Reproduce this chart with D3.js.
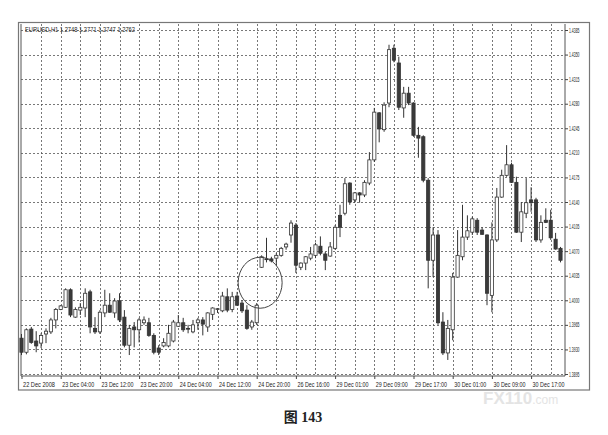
<!DOCTYPE html>
<html>
  <head>
    <meta charset="utf-8">
    <title>EURUSD H1, 22-30 Dec 2008</title>
    <script src="https://d3js.org/d3.v7.min.js"></script>
    <style>
      body { margin: 0; background: #fff; }
      text { font-family: "Liberation Sans", Arial, sans-serif; fill: #222; }
      .caption { font-family: "Liberation Serif", "Noto Sans CJK SC", serif; font-weight: bold; }
    </style>
  </head>
  <body>
    <div id="chart"></div>
    <script>
      // Hourly candles, one entry per bar
      const open = [
        1.3946, 1.3926, 1.3959, 1.3942, 1.3939, 1.3952, 1.3955, 1.3972, 1.3987, 1.3990,
        1.4015, 1.3976, 1.3986, 1.3989, 1.4012, 1.3960, 1.3955, 1.3982, 1.3993, 1.3982,
        1.3999, 1.3976, 1.3936, 1.3962, 1.3958, 1.3968, 1.3968, 1.3950, 1.3932, 1.3935,
        1.3935, 1.3942, 1.3963, 1.3968, 1.3960, 1.3955, 1.3968, 1.3972, 1.3962, 1.3980,
        1.3987, 1.3985, 1.4005, 1.3987, 1.4006, 1.3996, 1.3986, 1.3962, 1.3968, 1.4047,
        1.4059, 1.4059, 1.4060, 1.4064, 1.4076, 1.4093, 1.4107, 1.4047, 1.4053, 1.4060,
        1.4064, 1.4077, 1.4066, 1.4063, 1.4074, 1.4121, 1.4124, 1.4167, 1.4143, 1.4153,
        1.4150, 1.4167, 1.4200, 1.4267, 1.4243, 1.4281, 1.4359, 1.4338, 1.4274, 1.4295,
        1.4281, 1.4235, 1.4233, 1.4171, 1.4057, 1.4093, 1.3969, 1.3925, 1.3958, 1.4033,
        1.4062, 1.4090, 1.4097, 1.4114, 1.4100, 1.4093, 1.4007, 1.4086, 1.4147, 1.4178,
        1.4193, 1.4168, 1.4097, 1.4124, 1.4143, 1.4143, 1.4086, 1.4114, 1.4114, 1.4087,
        1.4074
      ];
      const high = [
        1.3952, 1.3960, 1.3962, 1.3956, 1.3953, 1.3960, 1.3975, 1.3989, 1.3993, 1.4017,
        1.4017, 1.3990, 1.3996, 1.4017, 1.4015, 1.3976, 1.3986, 1.4015, 1.4010, 1.4003,
        1.4010, 1.3986, 1.3965, 1.3969, 1.3975, 1.3977, 1.3975, 1.3953, 1.3936, 1.3946,
        1.3965, 1.3972, 1.3979, 1.3975, 1.3965, 1.3972, 1.3975, 1.3976, 1.3983, 1.3990,
        1.3989, 1.4012, 1.4017, 1.4012, 1.4012, 1.4000, 1.3993, 1.3972, 1.3996, 1.4064,
        1.4089, 1.4062, 1.4067, 1.4076, 1.4082, 1.4114, 1.4110, 1.4054, 1.4063, 1.4076,
        1.4082, 1.4091, 1.4069, 1.4083, 1.4107, 1.4136, 1.4174, 1.4168, 1.4154, 1.4154,
        1.4171, 1.4211, 1.4274, 1.4268, 1.4282, 1.4364, 1.4364, 1.4347, 1.4304, 1.4304,
        1.4282, 1.4247, 1.4235, 1.4174, 1.4104, 1.4100, 1.3983, 1.3972, 1.4039, 1.4100,
        1.4136, 1.4121, 1.4119, 1.4117, 1.4104, 1.4094, 1.4111, 1.4160, 1.4186, 1.4221,
        1.4196, 1.4176, 1.4140, 1.4174, 1.4161, 1.4146, 1.4121, 1.4131, 1.4129, 1.4096,
        1.4076
      ];
      const low = [
        1.3922, 1.3923, 1.3938, 1.3926, 1.3932, 1.3939, 1.3952, 1.3960, 1.3986, 1.3989,
        1.3976, 1.3975, 1.3979, 1.3976, 1.3953, 1.3952, 1.3952, 1.3976, 1.3982, 1.3975,
        1.3969, 1.3933, 1.3922, 1.3933, 1.3940, 1.3965, 1.3948, 1.3923, 1.3922, 1.3933,
        1.3933, 1.3940, 1.3962, 1.3955, 1.3953, 1.3953, 1.3958, 1.3950, 1.3955, 1.3972,
        1.3982, 1.3983, 1.3983, 1.3983, 1.3992, 1.3982, 1.3958, 1.3958, 1.3965, 1.4046,
        1.4054, 1.4054, 1.4050, 1.4062, 1.4072, 1.4082, 1.4039, 1.4043, 1.4043, 1.4057,
        1.4060, 1.4064, 1.4043, 1.4062, 1.4072, 1.4090, 1.4121, 1.4136, 1.4139, 1.4139,
        1.4147, 1.4164, 1.4197, 1.4225, 1.4240, 1.4275, 1.4339, 1.4271, 1.4260, 1.4278,
        1.4233, 1.4203, 1.4168, 1.4017, 1.4033, 1.3965, 1.3922, 1.3915, 1.3943, 1.4032,
        1.4057, 1.4086, 1.4093, 1.4093, 1.4093, 1.3993, 1.3983, 1.4083, 1.4146, 1.4176,
        1.4167, 1.4096, 1.4083, 1.4117, 1.4126, 1.4083, 1.4082, 1.4110, 1.4086, 1.4072,
        1.4054
      ];
      const close = [
        1.3926, 1.3958, 1.3940, 1.3935, 1.3950, 1.3956, 1.3972, 1.3987, 1.3992, 1.4015,
        1.3979, 1.3987, 1.3990, 1.4010, 1.3962, 1.3955, 1.3983, 1.3993, 1.3983, 1.3999,
        1.3972, 1.3936, 1.3960, 1.3958, 1.3972, 1.3972, 1.3950, 1.3926, 1.3926, 1.3940,
        1.3953, 1.3969, 1.3968, 1.3958, 1.3959, 1.3965, 1.3972, 1.3966, 1.3982, 1.3989,
        1.3988, 1.4006, 1.3986, 1.4005, 1.3993, 1.3985, 1.3960, 1.3969, 1.3993, 1.4062,
        1.4058, 1.4056, 1.4064, 1.4074, 1.4080, 1.4110, 1.4050, 1.4053, 1.4062, 1.4066,
        1.4079, 1.4067, 1.4057, 1.4076, 1.4104, 1.4104, 1.4166, 1.4140, 1.4153, 1.4150,
        1.4168, 1.4200, 1.4268, 1.4244, 1.4278, 1.4357, 1.4342, 1.4275, 1.4295, 1.4281,
        1.4235, 1.4231, 1.4171, 1.4057, 1.4093, 1.3968, 1.3925, 1.3960, 1.4033, 1.4064,
        1.4090, 1.4099, 1.4116, 1.4097, 1.4094, 1.4010, 1.4086, 1.4147, 1.4178, 1.4193,
        1.4168, 1.4097, 1.4126, 1.4139, 1.4139, 1.4086, 1.4111, 1.4111, 1.4089, 1.4073,
        1.4057
      ];

      // Price scale labels and time scale labels (one label every 8 bars)
      const priceTicks = [1.3895, 1.3930, 1.3965, 1.4000, 1.4035, 1.4070, 1.4105, 1.4140,
        1.4175, 1.4210, 1.4245, 1.4280, 1.4315, 1.4350, 1.4385];
      const timeLabels = ["22 Dec 2008", "23 Dec 04:00", "23 Dec 12:00", "23 Dec 20:00",
        "24 Dec 04:00", "24 Dec 12:00", "24 Dec 20:00", "26 Dec 16:00", "29 Dec 01:00",
        "29 Dec 09:00", "29 Dec 17:00", "30 Dec 01:00", "30 Dec 09:00", "30 Dec 17:00"];
      const timeLabelBars = [0, 8, 16, 24, 32, 40, 48, 56, 64, 72, 80, 88, 96, 104];
      const header = "EURUSD,H1  1.2748 1.2771 1.2747 1.2762";
      const caption = "图 143";
      // the circled gap after Christmas
      const marked = { bar: 48.7, price: 1.4025 };

      const bars = open.map((o, i) => ({ i, o, h: high[i], l: low[i], c: close[i] }));

      const W = 608, H = 435;
      const plot = { left: 21, right: 565, top: 24, bottom: 376 };

      const svg = d3.select("#chart").append("svg")
        .attr("width", W).attr("height", H);

      const x = d3.scaleLinear().domain([0, bars.length - 1]).range([21.5, 560.5]);
      const y = d3.scaleLinear().domain([1.3895, 1.4385]).range([374, 30]);

      // outer window frame
      svg.append("rect")
        .attr("x", 18.5).attr("y", 22.5).attr("width", 571).attr("height", 367.5)
        .attr("fill", "none").attr("stroke", "#777").attr("stroke-width", 1.2);

      // dotted grid
      const grid = svg.append("g").attr("stroke", "#555").attr("stroke-width", 0.8)
        .attr("stroke-dasharray", "2,2");
      grid.selectAll(".hg").data(priceTicks).join("line")
        .attr("x1", plot.left).attr("x2", plot.right)
        .attr("y1", d => Math.round(y(d)) + 0.5).attr("y2", d => Math.round(y(d)) + 0.5);
      grid.selectAll(".vg").data(d3.range(4, bars.length, 4)).join("line")
        .attr("x1", d => Math.round(x(d)) + 0.5).attr("x2", d => Math.round(x(d)) + 0.5)
        .attr("y1", plot.top).attr("y2", plot.bottom);

      // plot frame
      svg.append("path")
        .attr("d", `M${plot.left},${plot.top}V${plot.bottom}H${plot.right}V${plot.top}`)
        .attr("fill", "none").attr("stroke", "#555").attr("stroke-width", 1);

      // candles
      const candle = svg.append("g").selectAll("g").data(bars).join("g");
      candle.append("line")
        .attr("x1", d => x(d.i)).attr("x2", d => x(d.i))
        .attr("y1", d => y(d.h)).attr("y2", d => y(d.l))
        .attr("stroke", "#333").attr("stroke-width", 1);
      candle.append("rect")
        .attr("x", d => x(d.i) - 1.6).attr("width", 3.2)
        .attr("y", d => y(Math.max(d.o, d.c)))
        .attr("height", d => Math.max(0.8, Math.abs(y(d.o) - y(d.c))))
        .attr("fill", d => d.c >= d.o ? "#fff" : "#3a3a3a")
        .attr("stroke", "#333").attr("stroke-width", 0.8);

      // price scale on the right
      const yAxis = svg.append("g")
        .attr("transform", `translate(${plot.right},0)`)
        .call(d3.axisRight(y).tickValues(priceTicks).tickFormat(d3.format(".4f"))
          .tickSize(3).tickPadding(1));
      yAxis.select(".domain").remove();
      yAxis.selectAll("line").attr("stroke", "#444");
      yAxis.selectAll("text").attr("font-size", 6.5).attr("fill", "#222")
        .attr("textLength", 10.5).attr("lengthAdjust", "spacingAndGlyphs");

      // time scale at the bottom
      const xAxis = svg.append("g")
        .attr("transform", `translate(0,${plot.bottom})`)
        .call(d3.axisBottom(x).tickValues(timeLabelBars).tickFormat((d, i) => timeLabels[i])
          .tickSize(3));
      xAxis.select(".domain").remove();
      xAxis.selectAll("line").attr("stroke", "#444");
      xAxis.selectAll("text").attr("font-size", 6.5).attr("fill", "#222")
        .attr("text-anchor", "start").attr("x", 1).attr("y", 10.5).attr("dy", 0)
        .attr("textLength", 32).attr("lengthAdjust", "spacingAndGlyphs");

      // symbol header
      svg.append("text")
        .attr("x", 25).attr("y", 31.5)
        .attr("font-size", 6.5).attr("textLength", 110).attr("lengthAdjust", "spacingAndGlyphs")
        .text(header);

      // circle round the gap
      svg.append("ellipse")
        .attr("cx", x(marked.bar)).attr("cy", y(marked.price))
        .attr("rx", 22).attr("ry", 25.5)
        .attr("fill", "none").attr("stroke", "#444").attr("stroke-width", 1);

      // caption
      svg.append("text").attr("class", "caption")
        .attr("x", 303).attr("y", 422).attr("text-anchor", "middle")
        .attr("font-size", 14).text(caption);

      // faint site watermark
      const wm = svg.append("text").attr("x", 483).attr("y", 404)
        .attr("font-weight", "bold").style("fill", "#e4e4e4");
      wm.append("tspan").attr("font-size", 17).text("FX110");
      wm.append("tspan").attr("font-size", 12).attr("font-weight", "normal").text(".com");
    </script>
  </body>
</html>
